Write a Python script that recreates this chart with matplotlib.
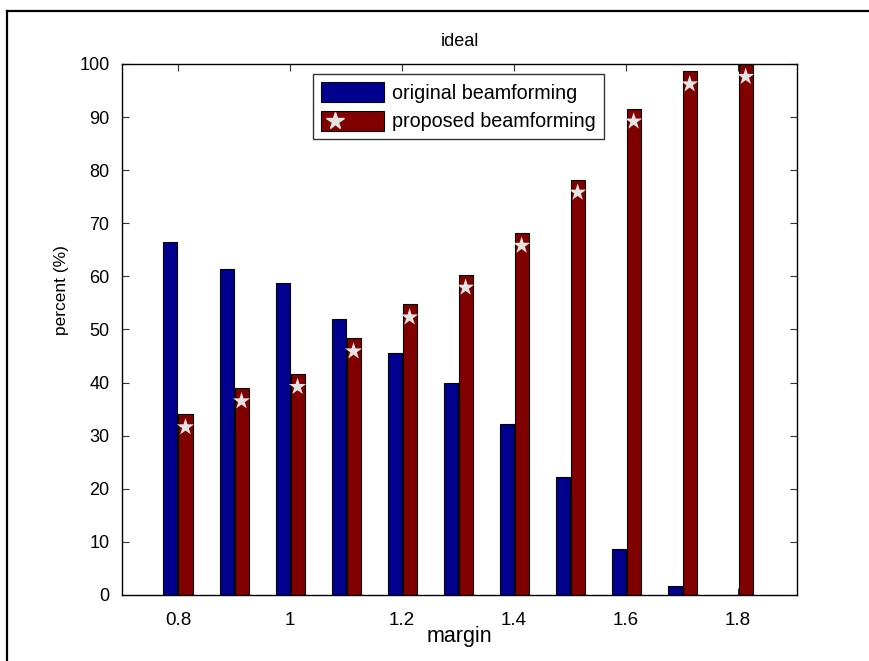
import matplotlib
matplotlib.use("Agg")
import matplotlib.pyplot as plt
from matplotlib.lines import Line2D
from matplotlib.patches import Patch
import numpy as np

plt.rcParams['font.family'] = ['Liberation Sans', 'DejaVu Sans']

# margin values and success percentages
margin = [0.8, 0.9, 1.0, 1.1, 1.2, 1.3, 1.4, 1.5, 1.6, 1.7, 1.8]
original = [66.4, 61.4, 58.8, 52.0, 45.6, 40.0, 32.2, 22.2, 8.7, 1.7, 0.0]
proposed = [34.0, 38.9, 41.6, 48.3, 54.7, 60.3, 68.2, 78.2, 91.6, 98.6, 100.0]
x_ticks = [0.8, 1.0, 1.2, 1.4, 1.6, 1.8]
x_ticklabels = ['0.8', '1', '1.2', '1.4', '1.6', '1.8']
y_ticks = list(range(0, 101, 10))

blue = '#00008f'
red = '#800000'
star_col = '#e4e4e4'

fig = plt.figure(figsize=(8.70, 6.61), dpi=100)
ax = fig.add_axes([0.1402, 0.1000, 0.7759, 0.8032])

x = np.array(margin)
w = 0.025
off = 0.0134
ax.bar(x - off, original, width=w, color=blue, edgecolor='black', linewidth=0.8, zorder=2)
ax.bar(x + off, proposed, width=w, color=red, edgecolor='black', linewidth=0.8, zorder=2)

# star markers sitting just under the top of each proposed bar
star_y = np.array(proposed) - 2.4
ax.scatter(x + off, star_y, marker='*', s=170, color=star_col, edgecolors='none',
           zorder=3, clip_on=False)

ax.set_xlim(0.7, 1.905)
ax.set_ylim(0, 100)
ax.set_xticks(x_ticks)
ax.set_xticklabels(x_ticklabels)
ax.set_yticks(y_ticks)
ax.tick_params(direction='in', length=5, width=0.8, labelsize=13,
               top=True, right=True, color='#333333')
ax.tick_params(axis='y', pad=9)
ax.tick_params(axis='x', pad=12, labelsize=13.5)
for s in ax.spines.values():
    s.set_linewidth(1.0)

ax.set_xlabel('margin', fontsize=15.5, labelpad=-2)
ax.set_ylabel('percent (%)', fontsize=12.5)
ax.yaxis.set_label_coords(-0.078, 0.575)
ax.set_title('ideal', fontsize=13, pad=13)

handles = [
    Patch(facecolor=blue, edgecolor='black', linewidth=0.8),
    Patch(facecolor=red, edgecolor='black', linewidth=0.8),
]
leg = ax.legend(handles, ['original beamforming', 'proposed beamforming'],
                loc='upper left', bbox_to_anchor=(0.283, 0.981),
                fontsize=14.2, frameon=True, fancybox=False, edgecolor='black',
                handlelength=3.2, handleheight=1.17, handletextpad=0.4,
                borderpad=0.4, labelspacing=0.42, borderaxespad=0)
leg.get_frame().set_linewidth(1.0)

# star inside the proposed legend swatch
fig.canvas.draw()
patch = leg.get_patches()[1]
bb = patch.get_window_extent()
px = bb.x0 + 0.22 * bb.width
py = (bb.y0 + bb.y1) / 2
fig.add_artist(Line2D([px / fig.bbox.width], [py / fig.bbox.height], marker='*',
                      markersize=13, color=star_col, linestyle='none',
                      transform=fig.transFigure, zorder=10))

# outer frame
fig.add_artist(Line2D([7 / 870, 1.0], [1 - 11 / 661, 1 - 11 / 661], color='black',
                      linewidth=1.6, transform=fig.transFigure))
fig.add_artist(Line2D([7 / 870, 7 / 870], [0, 1 - 11 / 661], color='black',
                      linewidth=1.6, transform=fig.transFigure))

fig.savefig('out.png', dpi=100)
